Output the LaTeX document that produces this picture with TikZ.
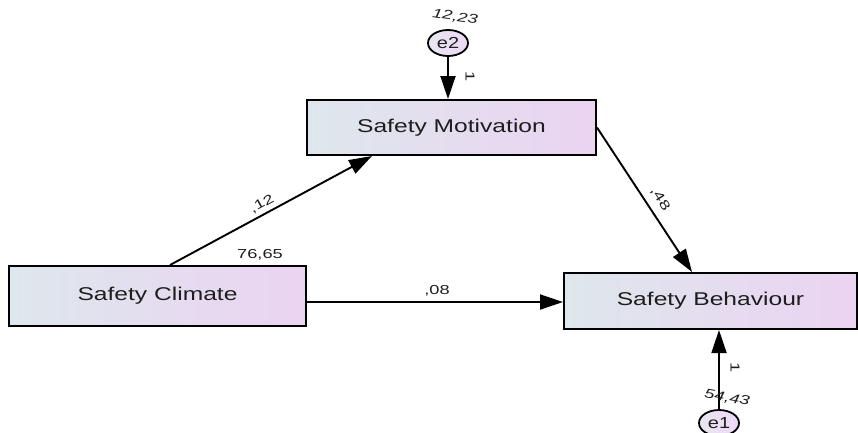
\documentclass[tikz,border=0pt]{standalone}
\usepackage{fontspec}
\setmainfont{Liberation Sans}
\usetikzlibrary{shapes.geometric,arrows.meta}
\definecolor{txt}{HTML}{1E1E1E}
\definecolor{boxL}{HTML}{DEE7EC}
\definecolor{boxR}{HTML}{EBD3F2}
\definecolor{ellL}{HTML}{E9E6F1}
\definecolor{ellR}{HTML}{EED8F6}
\newcommand\boxtxt[1]{\scalebox{1.33}[1]{\fontsize{18.5}{20}\selectfont #1}}
\newcommand\lbltxt[1]{\scalebox{1.4}[1]{\fontsize{13}{15}\selectfont #1}}
\newcommand\lblit[1]{\scalebox{1.4}[1]{\fontsize{13}{15}\selectfont\itshape #1}}
\newcommand\errtxt[1]{\scalebox{1.25}[1]{\fontsize{16}{17}\selectfont #1}}
\tikzset{
  varbox/.style={draw=black, line width=2pt, left color=boxL, right color=boxR,
    shading angle=90, inner sep=0pt, text=txt},
  errnode/.style={ellipse, draw=black, line width=1.8pt, left color=ellL, right color=ellR,
    minimum width=40pt, minimum height=26pt, inner sep=0pt, text=txt},
  arr/.style={line width=1.9pt, -{Triangle[length=23pt,width=15pt]}},
  lbl/.style={inner sep=0.5pt, text=txt}
}
\begin{document}
\begin{tikzpicture}[x=1pt,y=-1pt]
\useasboundingbox (0,0) rectangle (858,432);
\node[varbox, minimum width=289pt, minimum height=55pt] (M) at (451.5,127.5) {\boxtxt{Safety Motivation}};
\node[varbox, minimum width=297pt, minimum height=60pt] (C) at (157.5,296) {\boxtxt{Safety Climate}};
\node[varbox, minimum width=293pt, minimum height=56pt] (B) at (710.5,301) {\boxtxt{Safety Behaviour}};
\node[errnode] (e2) at (448,43) {\errtxt{e2}};
\node[errnode] (e1) at (719,423) {\errtxt{e1}};
\draw[arr] (e2) -- (e2 |- M.north);
\draw[arr] (e1) -- (e1 |- B.south);
\draw[arr] ([xshift=12.5pt]C.north) -- ([xshift=-79.5pt]M.south);
\draw[arr] (M.east) -- ([xshift=-18.5pt]B.north);
\draw[arr] ([yshift=-6pt]C.east) -- ([yshift=-1pt]B.west);
\node[lbl, rotate=-8] (v2) at (455,17) {\lblit{12,23}};
\node[lbl, rotate=-90] (w2) at (470,77) {\lbltxt{1}};
\node[lbl, rotate=-10] (v1) at (727,398) {\lblit{54,43}};
\node[lbl, rotate=-90] (w1) at (735,368) {\lbltxt{1}};
\node[lbl] (vc) at (260,255) {\lbltxt{76,65}};
\node[lbl, rotate=29] (wcm) at (262,204) {\lbltxt{,12}};
\node[lbl, rotate=-57] (wmb) at (660,199) {\lbltxt{,48}};
\node[lbl] (wcb) at (437,291) {\lbltxt{,08}};
\end{tikzpicture}
\end{document}
